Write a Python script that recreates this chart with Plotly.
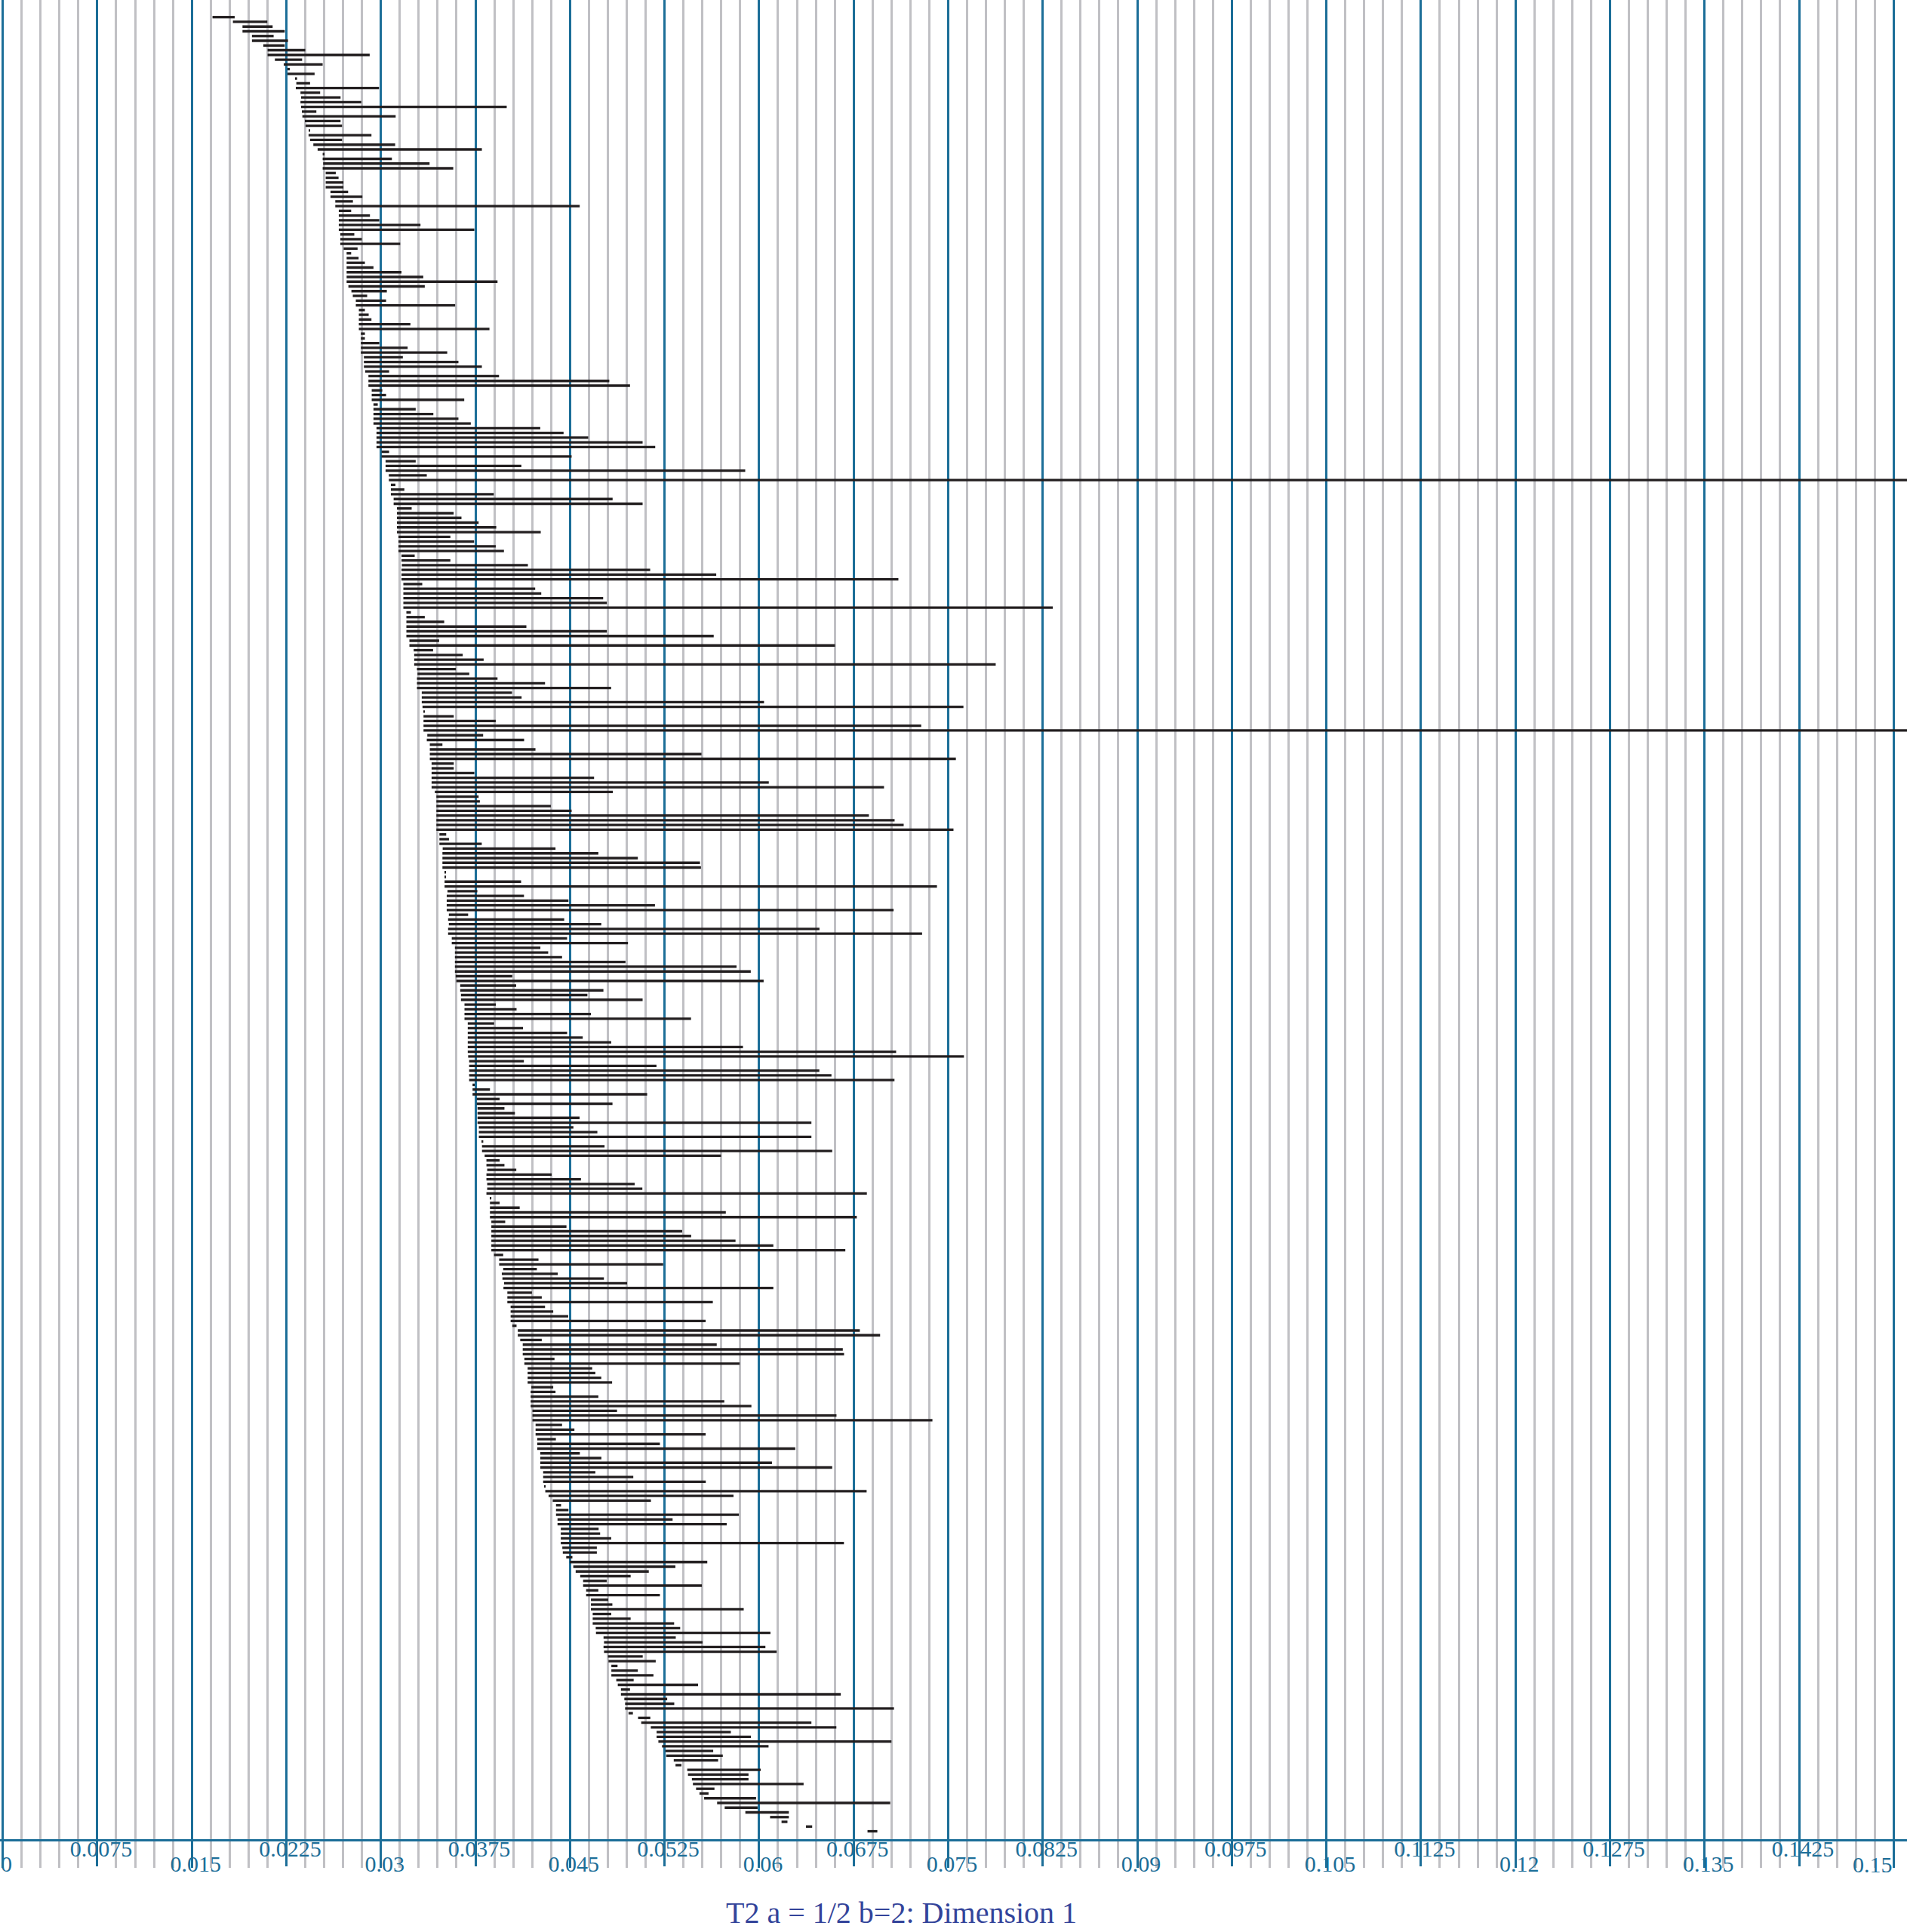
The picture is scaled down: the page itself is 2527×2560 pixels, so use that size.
import plotly.graph_objects as go

INF = float("inf")

BIRTH = [
    0.01664, 0.01826, 0.01902, 0.01902, 0.01977, 0.01977, 0.02067, 0.02101, 0.02101, 0.02159,
    0.02229, 0.02259, 0.02259, 0.02325, 0.02329, 0.02325, 0.02362, 0.02367, 0.02362, 0.02367,
    0.02373, 0.02377, 0.02397, 0.02402, 0.02428, 0.02426, 0.02438, 0.02464, 0.02498, 0.02538,
    0.02538, 0.02542, 0.02538, 0.02562, 0.02562, 0.02562, 0.02562, 0.02600, 0.02600, 0.02638,
    0.02638, 0.02666, 0.02666, 0.02666, 0.02666, 0.02666, 0.02678, 0.02678, 0.02678, 0.02704,
    0.02728, 0.02728, 0.02728, 0.02728, 0.02728, 0.02728, 0.02728, 0.02742, 0.02766, 0.02777,
    0.02801, 0.02801, 0.02825, 0.02825, 0.02825, 0.02825, 0.02825, 0.02841, 0.02841, 0.02841,
    0.02841, 0.02841, 0.02865, 0.02865, 0.02865, 0.02875, 0.02901, 0.02901, 0.02901, 0.02927,
    0.02927, 0.02927, 0.02941, 0.02941, 0.02941, 0.02941, 0.02941, 0.02965, 0.02965, 0.02965,
    0.02965, 0.02965, 0.03005, 0.03005, 0.03037, 0.03037, 0.03037, 0.03063, 0.03063, 0.03079,
    0.03079, 0.03079, 0.03101, 0.03101, 0.03127, 0.03127, 0.03127, 0.03127, 0.03127, 0.03127,
    0.03139, 0.03139, 0.03139, 0.03139, 0.03163, 0.03163, 0.03166, 0.03163, 0.03163, 0.03163,
    0.03178, 0.03178, 0.03178, 0.03178, 0.03178, 0.03178, 0.03202, 0.03202, 0.03202, 0.03202,
    0.03202, 0.03202, 0.03226, 0.03226, 0.03260, 0.03264, 0.03264, 0.03264, 0.03286, 0.03290,
    0.03286, 0.03286, 0.03286, 0.03324, 0.03324, 0.03324, 0.03330, 0.03338, 0.03338, 0.03338,
    0.03338, 0.03338, 0.03368, 0.03364, 0.03388, 0.03388, 0.03388, 0.03388, 0.03402, 0.03402,
    0.03402, 0.03402, 0.03402, 0.03402, 0.03428, 0.03440, 0.03440, 0.03440, 0.03440, 0.03440,
    0.03440, 0.03440, 0.03440, 0.03464, 0.03464, 0.03464, 0.03490, 0.03488, 0.03488, 0.03488,
    0.03488, 0.03505, 0.03505, 0.03505, 0.03505, 0.03528, 0.03522, 0.03522, 0.03522, 0.03522,
    0.03539, 0.03533, 0.03539, 0.03533, 0.03533, 0.03562, 0.03562, 0.03587, 0.03587, 0.03587,
    0.03587, 0.03587, 0.03587, 0.03593, 0.03598, 0.03629, 0.03629, 0.03635, 0.03635, 0.03663,
    0.03663, 0.03663, 0.03663, 0.03689, 0.03689, 0.03689, 0.03689, 0.03689, 0.03689, 0.03689,
    0.03692, 0.03700, 0.03700, 0.03700, 0.03700, 0.03700, 0.03727, 0.03727, 0.03727, 0.03760,
    0.03760, 0.03766, 0.03766, 0.03766, 0.03766, 0.03777, 0.03777, 0.03777, 0.03802, 0.03802,
    0.03802, 0.03823, 0.03837, 0.03837, 0.03843, 0.03837, 0.03837, 0.03843, 0.03843, 0.03837,
    0.03865, 0.03865, 0.03865, 0.03865, 0.03865, 0.03876, 0.03876, 0.03876, 0.03876, 0.03876,
    0.03876, 0.03876, 0.03897, 0.03938, 0.03938, 0.03970, 0.03959, 0.03964, 0.03977, 0.03972,
    0.04003, 0.04003, 0.04003, 0.04029, 0.04029, 0.04029, 0.04029, 0.04042, 0.04086, 0.04086,
    0.04105, 0.04125, 0.04125, 0.04125, 0.04138, 0.04138, 0.04164, 0.04164, 0.04164, 0.04164,
    0.04193, 0.04188, 0.04188, 0.04188, 0.04188, 0.04202, 0.04202, 0.04202, 0.04227, 0.04227,
    0.04227, 0.04240, 0.04240, 0.04240, 0.04264, 0.04264, 0.04264, 0.04264, 0.04287, 0.04287,
    0.04287, 0.04300, 0.04304, 0.04330, 0.04363, 0.04389, 0.04389, 0.04389, 0.04401, 0.04401,
    0.04427, 0.04427, 0.04427, 0.04427, 0.04439, 0.04443, 0.04470, 0.04498, 0.04526, 0.04545,
    0.04581, 0.04604, 0.04604, 0.04628, 0.04628, 0.04666, 0.04666, 0.04666, 0.04680, 0.04680,
    0.04680, 0.04704, 0.04706, 0.04766, 0.04770, 0.04766, 0.04770, 0.04801, 0.04805, 0.04828,
    0.04828, 0.04828, 0.04867, 0.04879, 0.04904, 0.04904, 0.04931, 0.04937, 0.04937, 0.04964,
    0.05040, 0.05065, 0.05141, 0.05187, 0.05187, 0.05201, 0.05230, 0.05257, 0.05263, 0.05323,
    0.05337, 0.05430, 0.05436, 0.05467, 0.05475, 0.05500, 0.05527, 0.05564, 0.05667, 0.05727,
    0.05891, 0.06087, 0.06178, 0.06372, 0.06860,
]

DEATH = [
    0.01840, 0.02099, 0.02141, 0.02237, 0.02149, 0.02263, 0.02237, 0.02400, 0.02911, 0.02375,
    0.02538, 0.02277, 0.02474, 0.02335, 0.02438, 0.02985, 0.02518, 0.02680, 0.02845, 0.03998,
    0.02488, 0.03117, 0.02680, 0.02692, 0.02438, 0.02925, 0.02692, 0.03113, 0.03801, 0.02552,
    0.03087, 0.03386, 0.03574, 0.02642, 0.02664, 0.02702, 0.02702, 0.02740, 0.02853, 0.02778,
    0.04577, 0.02764, 0.02913, 0.02987, 0.03314, 0.03741, 0.02789, 0.02849, 0.03153, 0.02815,
    0.02764, 0.02823, 0.02873, 0.02941, 0.03163, 0.03336, 0.03925, 0.03348, 0.03047, 0.02891,
    0.03041, 0.03589, 0.02873, 0.02903, 0.02925, 0.03234, 0.03861, 0.02873, 0.02873, 0.02987,
    0.03212, 0.03526, 0.03174, 0.03615, 0.03801, 0.03065, 0.03937, 0.04812, 0.04976, 0.03011,
    0.03041, 0.03661, 0.02975, 0.03276, 0.03416, 0.03615, 0.03713, 0.04264, 0.04449, 0.04645,
    0.05076, 0.05176, 0.03065, 0.04513, 0.03276, 0.04114, 0.05890, 0.03364, INF, 0.03115,
    0.03186, 0.03895, 0.04838, 0.05076, 0.03244, 0.03577, 0.03639, 0.03775, 0.03915, 0.04268,
    0.03551, 0.03739, 0.03911, 0.03976, 0.03268, 0.03551, 0.04166, 0.05136, 0.05660, 0.07105,
    0.03328, 0.04224, 0.04272, 0.04763, 0.04792, 0.08330, 0.03238, 0.03348, 0.03502, 0.04154,
    0.04792, 0.05640, 0.03462, 0.06602, 0.03414, 0.03649, 0.03815, 0.07877, 0.03595, 0.03701,
    0.03925, 0.04302, 0.04826, 0.04040, 0.04116, 0.06039, 0.07621, 0.03348, 0.03578, 0.03911,
    0.07286, INF, 0.03811, 0.04136, 0.03488, 0.04226, 0.05543, 0.07561, 0.03578, 0.03578,
    0.03741, 0.04691, 0.06077, 0.06991, 0.04840, 0.03775, 0.03785, 0.04348, 0.04513, 0.06871,
    0.07075, 0.07147, 0.07542, 0.03518, 0.03540, 0.03800, 0.04385, 0.04725, 0.05038, 0.05531,
    0.05539, 0.03516, 0.03512, 0.04112, 0.07411, 0.03765, 0.04135, 0.04488, 0.05174, 0.07067,
    0.03692, 0.04454, 0.04748, 0.06479, 0.07293, 0.04477, 0.04960, 0.04265, 0.04327, 0.04437,
    0.04940, 0.05821, 0.05934, 0.04042, 0.06036, 0.04073, 0.04765, 0.04638, 0.05076, 0.03912,
    0.04076, 0.04666, 0.05460, 0.03898, 0.04127, 0.04477, 0.04601, 0.04827, 0.05872, 0.07087,
    0.07625, 0.04134, 0.05186, 0.06478, 0.06574, 0.07074, 0.03744, 0.03865, 0.05112, 0.03942,
    0.04837, 0.03980, 0.04063, 0.04576, 0.06415, 0.04527, 0.04717, 0.06415, 0.03812, 0.04774,
    0.06580, 0.05698, 0.03942, 0.03980, 0.04074, 0.04354, 0.04587, 0.05013, 0.05074, 0.06855,
    0.03876, 0.03942, 0.04101, 0.05736, 0.06775, 0.03986, 0.04472, 0.05390, 0.05461, 0.05813,
    0.06113, 0.06684, 0.03970, 0.04250, 0.05239, 0.04237, 0.04403, 0.04769, 0.04953, 0.06113,
    0.04198, 0.04276, 0.05633, 0.04302, 0.04367, 0.04486, 0.05576, 0.04076, 0.06799, 0.06960,
    0.04276, 0.05664, 0.06664, 0.06674, 0.04377, 0.05846, 0.04676, 0.04701, 0.04748, 0.04834,
    0.04367, 0.04385, 0.04725, 0.05724, 0.05939, 0.04873, 0.06614, 0.07375, 0.04437, 0.04535,
    0.05576, 0.04388, 0.05213, 0.06287, 0.04578, 0.04749, 0.06102, 0.06580, 0.04701, 0.05002,
    0.05577, 0.04302, 0.06853, 0.05797, 0.05142, 0.04429, 0.04488, 0.05840, 0.05314, 0.05743,
    0.04727, 0.04739, 0.04827, 0.06673, 0.04713, 0.04713, 0.04519, 0.05589, 0.05336, 0.05125,
    0.04981, 0.04791, 0.05546, 0.04725, 0.05213, 0.04803, 0.04836, 0.05878, 0.04827, 0.04981,
    0.05326, 0.05374, 0.06090, 0.05339, 0.05551, 0.06050, 0.06139, 0.05077, 0.05180, 0.04877,
    0.05038, 0.05162, 0.05005, 0.05516, 0.04976, 0.06648, 0.05271, 0.05327, 0.07070, 0.04999,
    0.05137, 0.06415, 0.06613, 0.05776, 0.05935, 0.07050, 0.06075, 0.05636, 0.05712, 0.05675,
    0.05384, 0.06013, 0.05916, 0.05916, 0.06353, 0.05646, 0.05599, 0.05976, 0.07040, 0.05988,
    0.06236, 0.06236, 0.06225, 0.06421, 0.06938,
]

assert len(BIRTH) == len(DEATH)

EVEN_TICKS = [0, 0.015, 0.03, 0.045, 0.06, 0.075, 0.09, 0.105, 0.12, 0.135, 0.15]
EVEN_LABELS = ["0", "0.015", "0.03", "0.045", "0.06", "0.075", "0.09", "0.105", "0.12", "0.135",
               "0.15"]
ODD_TICKS = [0.0075, 0.0225, 0.0375, 0.0525, 0.0675, 0.0825, 0.0975, 0.1125, 0.1275, 0.1425]
ODD_LABELS = ["0.0075", "0.0225", "0.0375", "0.0525", "0.0675", "0.0825", "0.0975", "0.1125",
              "0.1275", "0.1425"]
MINOR_STEP = 0.0015
TITLE = "T2 a = 1/2 b=2: Dimension 1"

BLUE = "#1c6e98"
GRAY = "#c0c0c4"
BAR = "#231f20"
TITLE_COLOR = "#33449a"
FONT = "Liberation Serif"

X_MIN, X_MAX = -0.000216, 0.151059
n = len(BIRTH)
rows = list(range(1, n + 1))
ends = [d if d != INF else X_MAX * 2 for d in DEATH]
lengths = [e - b for b, e in zip(BIRTH, ends)]

minor_vals = [round(i * MINOR_STEP, 6) for i in range(1, 101) if i % 5 != 0]

# the last even label sits flush against the right edge of the page (right-aligned)
even_ticktext = EVEN_LABELS[:-1] + [""]

fig = go.Figure()
fig.add_trace(go.Bar(
    y=rows, x=lengths, base=BIRTH, orientation="h", width=0.53,
    marker=dict(color=BAR, line=dict(width=0)), hoverinfo="skip", showlegend=False,
))
fig.add_trace(go.Scatter(x=[], y=[], xaxis="x2", yaxis="y", showlegend=False, hoverinfo="skip"))

tickfont = dict(family=FONT, size=30, color=BLUE)
common = dict(
    range=[X_MIN, X_MAX], tickmode="array", ticks="outside", ticklen=35, tickwidth=3,
    tickcolor=BLUE, showgrid=True, gridcolor=BLUE, gridwidth=3,
    tickfont=tickfont, ticklabelshift=5,
    ticklabeloverflow="allow", automargin=False,
)

fig.update_layout(
    width=2527, height=2560,
    margin=dict(l=0, r=0, t=0, b=123, autoexpand=False),
    plot_bgcolor="white", paper_bgcolor="white",
    showlegend=False,
    xaxis=dict(
        **common, tickvals=EVEN_TICKS, ticktext=even_ticktext,
        showline=True, linecolor=BLUE, linewidth=2.5,
        zeroline=True, zerolinecolor=BLUE, zerolinewidth=3,
        ticklabelstandoff=-31,
        minor=dict(tickmode="array", tickvals=minor_vals, ticks="outside", ticklen=35,
                   tickwidth=2.5, tickcolor=GRAY, showgrid=True, gridcolor=GRAY, gridwidth=2.5),
    ),
    xaxis2=dict(
        **common, tickvals=ODD_TICKS, ticktext=ODD_LABELS,
        overlaying="x", anchor="y", side="bottom", showline=False, zeroline=False,
        ticklabelstandoff=-49,
    ),
    yaxis=dict(range=[386.67, -2.626], visible=False, showgrid=False, zeroline=False,
               automargin=False),
    annotations=[
        dict(
            text=EVEN_LABELS[-1], xref="x", yref="paper", x=EVEN_TICKS[-1], y=-0.0136,
            xanchor="right", yanchor="middle", showarrow=False, borderpad=0,
            font=tickfont,
        ),
        dict(
            text=TITLE, xref="paper", yref="paper", x=0.4725, y=-0.0399,
            xanchor="center", yanchor="middle", showarrow=False, borderpad=0,
            font=dict(family=FONT, size=40, color=TITLE_COLOR),
        ),
    ],
)

fig.write_html("out.html", config={"displayModeBar": False},
               post_script="document.body.style.margin='0px';")
